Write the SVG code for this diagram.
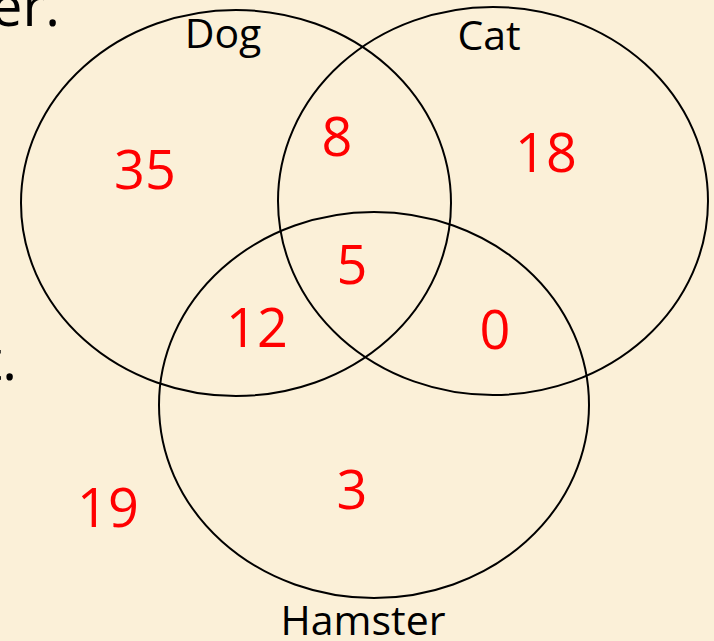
<svg xmlns="http://www.w3.org/2000/svg" width="714" height="641" viewBox="0 0 714 641">
<style>
.bg{fill:#FBF0D8}
.set{fill:none;stroke:#000;stroke-width:2}
.lbl{font-family:"Open Sans","Liberation Sans",sans-serif;font-size:41px;fill:#000;text-anchor:middle}
.num{font-family:"Open Sans","Liberation Sans",sans-serif;font-size:54px;fill:#FF0000;text-anchor:middle}
.frag{font-family:"Open Sans","Liberation Sans",sans-serif;font-size:56px;fill:#000}
</style>
<rect class="bg" x="0" y="0" width="714" height="641"/>
<g id="fragments">
<text class="frag" x="60" y="26" text-anchor="end">er.</text>
<text class="frag" x="17" y="380" text-anchor="end">t.</text>
</g>
<g id="connectors"></g>
<g id="dog">
<ellipse class="set" cx="236" cy="203" rx="215" ry="193"/>
<text class="lbl" x="223" y="48">Dog</text>
</g>
<g id="cat">
<ellipse class="set" cx="493" cy="201" rx="215" ry="194"/>
<text class="lbl" x="489" y="50">Cat</text>
</g>
<g id="hamster">
<ellipse class="set" cx="374" cy="405" rx="215" ry="193"/>
<text class="lbl" x="363" y="635">Hamster</text>
</g>
<g id="counts">
<text class="num" x="145" y="189">35</text>
<text class="num" x="337" y="156">8</text>
<text class="num" x="546" y="172">18</text>
<text class="num" x="352" y="284">5</text>
<text class="num" x="257" y="347">12</text>
<text class="num" x="495" y="349">0</text>
<text class="num" x="352" y="509">3</text>
<text class="num" x="108" y="527">19</text>
</g>
</svg>
